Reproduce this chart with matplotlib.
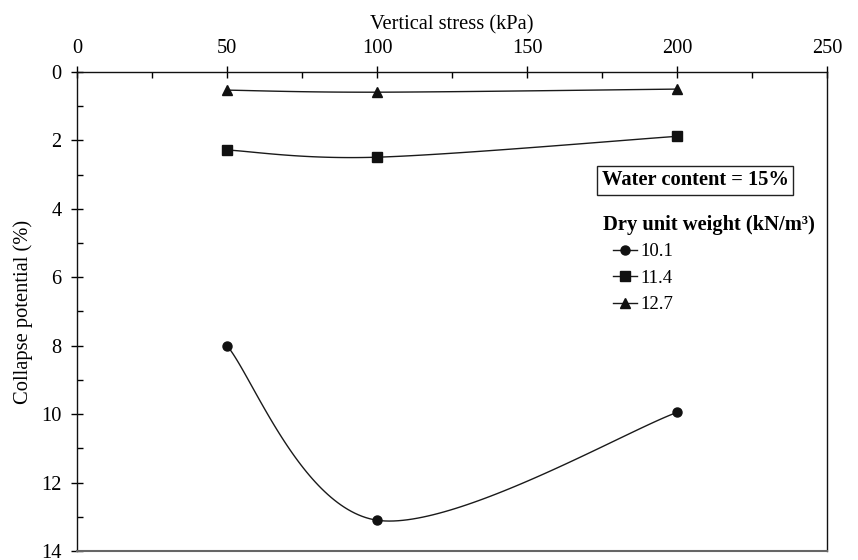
import numpy as np
import matplotlib
matplotlib.use("Agg")
import matplotlib.pyplot as plt
from matplotlib.ticker import MultipleLocator
from matplotlib.lines import Line2D

# ---- data ----
stress = [50, 100, 200]
cp_101 = [8.0, 13.1, 9.95]
cp_114 = [2.28, 2.49, 1.88]
cp_127 = [0.53, 0.59, 0.50]
series_labels = ["10.1", "11.4", "12.7"]
series_markers = ["o", "s", "^"]

plt.rcParams['font.family'] = ['Liberation Serif', 'DejaVu Serif']

W, H = 858, 560


def excel_smooth(x, y, n=60):
    P = np.column_stack([x, y]).astype(float)
    out = []
    for i in range(len(P) - 1):
        p0 = P[i - 1] if i > 0 else P[i]
        p1 = P[i]
        p2 = P[i + 1]
        p3 = P[i + 2] if i + 2 < len(P) else P[i + 1]
        c1 = p1 + (p2 - p0) / 6.0
        c2 = p2 - (p3 - p1) / 6.0
        t = np.linspace(0, 1, n)[:, None]
        seg = ((1 - t) ** 3) * p1 + 3 * ((1 - t) ** 2) * t * c1 + 3 * (1 - t) * t ** 2 * c2 + t ** 3 * p2
        out.append(seg if i == 0 else seg[1:])
    arr = np.vstack(out)
    return arr[:, 0], arr[:, 1]


fig = plt.figure(figsize=(W / 100, H / 100), dpi=100)
ax = fig.add_axes([77 / W, 1 - 551 / H, 750 / W, 479 / H])

msizes = {"o": 6.5, "s": 6.5, "^": 6.5}
handles = []
for ys, lab, mk in zip([cp_101, cp_114, cp_127], series_labels, series_markers):
    sx, sy = excel_smooth(stress, ys)
    ax.plot(sx, sy, color='#1a1a1a', lw=1.0, zorder=2)
    ax.plot(stress, ys, linestyle='none', marker=mk, color='#111111',
            markersize=msizes[mk], zorder=3)
    handles.append(Line2D([], [], color='#1a1a1a', lw=1.0, marker=mk,
                          markersize=msizes[mk], markerfacecolor='#111111',
                          markeredgecolor='#111111'))

ax.set_xlim(0, 250)
ax.set_ylim(14, 0)
ax.xaxis.tick_top()
ax.xaxis.set_label_position('top')
ax.xaxis.set_major_locator(MultipleLocator(50))
ax.xaxis.set_minor_locator(MultipleLocator(25))
ax.yaxis.set_major_locator(MultipleLocator(2))
ax.yaxis.set_minor_locator(MultipleLocator(1))

TICKFS = 14.7
ax.tick_params(axis='x', which='major', direction='inout', length=8.5, width=1.0,
               labelsize=TICKFS, pad=6, top=True, bottom=False)
ax.tick_params(axis='x', which='minor', direction='in', length=4.3, width=1.0,
               top=True, bottom=False)
ax.tick_params(axis='y', which='major', direction='inout', length=8, width=1.0,
               labelsize=TICKFS, pad=7)
ax.tick_params(axis='y', which='minor', direction='in', length=4.3, width=1.0)

for s in ['top', 'left', 'right']:
    ax.spines[s].set_linewidth(1.0)
    ax.spines[s].set_color('#111111')
ax.spines['bottom'].set_color('#666666')
ax.spines['bottom'].set_linewidth(1.5)

ax.set_xlabel('Vertical stress (kPa)', fontsize=14.8, labelpad=7)
ax.set_ylabel('Collapse potential (%)', fontsize=14.8)
ax.yaxis.set_label_coords(-0.058, 0.5)

ax.text(206, 3.17, 'Water content = 15%', fontsize=14.8, fontweight='bold',
        ha='center', va='center',
        bbox=dict(boxstyle='square,pad=0.2', facecolor='white', edgecolor='#222222', lw=1.0))

# legend title as separate text, entries via legend
fig.text(603 / W, 1 - 225 / H, 'Dry unit weight (kN/m³)', fontsize=14.8,
         fontweight='bold', ha='left', va='center')
leg = fig.legend(handles, series_labels, loc='upper left',
                 bbox_to_anchor=(613 / W, 1 - 243 / H), frameon=False, fontsize=13.5,
                 handlelength=1.28, handletextpad=0.2,
                 labelspacing=0.5, borderaxespad=0, borderpad=0)

fig.savefig('out.png', dpi=100)
